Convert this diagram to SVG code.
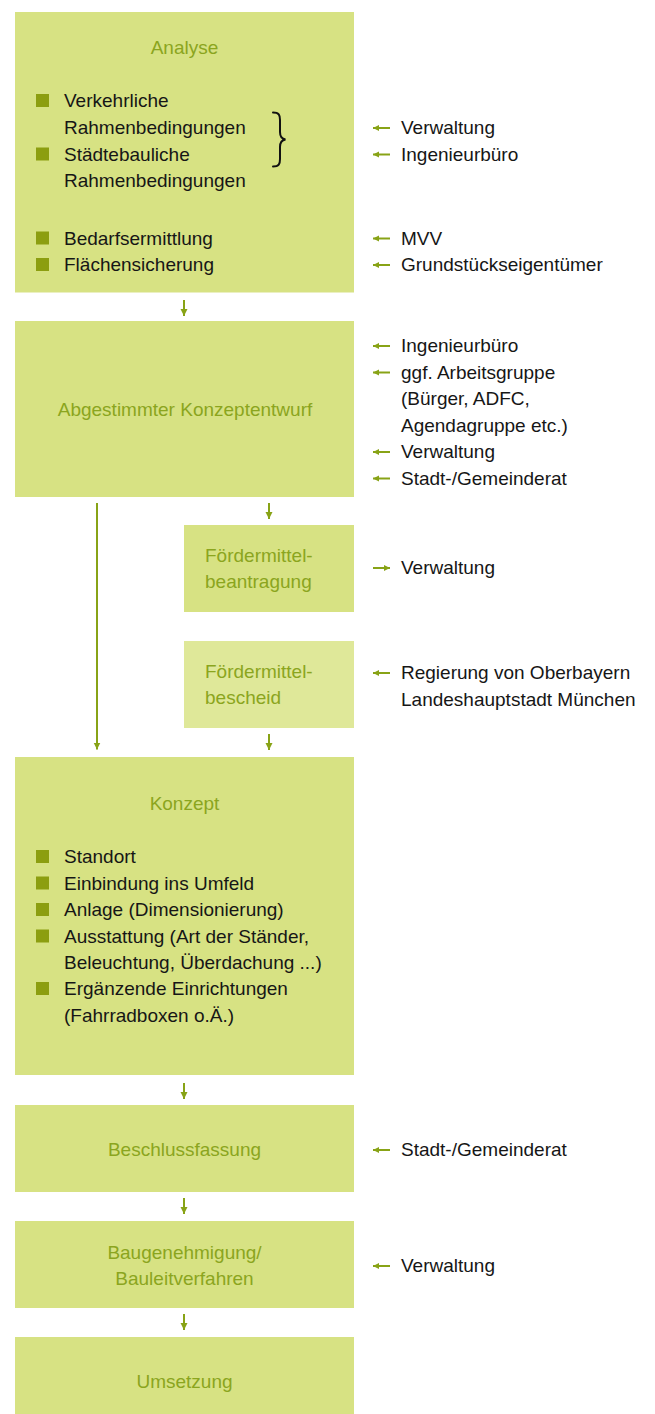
<svg xmlns="http://www.w3.org/2000/svg" width="655" height="1414" viewBox="0 0 655 1414">
<defs>
<style>
.box{fill:#d7e283}
.box2{fill:#dfe899}
.t{font-family:"Liberation Sans",Arial,sans-serif;font-size:19px}
.title{fill:#8ba51e;text-anchor:middle}
.ftitle{fill:#8ba51e}
.blk{fill:#161616}
.bul{fill:#8c9e10}
.con{stroke:#88a316;stroke-width:2;fill:none}
.brace{stroke:#111;stroke-width:2;fill:none;stroke-linecap:round}
</style>
<marker id="ah" markerUnits="userSpaceOnUse" markerWidth="8" markerHeight="8" refX="7" refY="3.5" orient="auto">
<path d="M0,0 L7,3.5 L0,7 z" fill="#88a316"/>
</marker>
<marker id="sh" markerUnits="userSpaceOnUse" markerWidth="7" markerHeight="7" refX="6" refY="3" orient="auto">
<path d="M0,0 L6,3 L0,6 z" fill="#88a316"/>
</marker>
</defs>

<g id="analyse">
<rect class="box" x="15" y="12" width="339" height="280.5"/>
<text class="t title" x="184.5" y="54">Analyse</text>
<rect class="bul" x="36" y="94" width="13" height="13"/>
<text class="t blk" x="64" y="107">Verkehrliche</text>
<text class="t blk" x="64" y="134">Rahmenbedingungen</text>
<rect class="bul" x="36" y="147.5" width="13" height="13"/>
<text class="t blk" x="64" y="160.5">Städtebauliche</text>
<text class="t blk" x="64" y="187">Rahmenbedingungen</text>
<path class="brace" d="M273,112.5 C279,112.5 280,115 280,120 L280,132 C280,137 282,139 285.5,139.5 C282,140 280,142 280,147 L280,159 C280,164 279,166.5 273,166.5"/>
<rect class="bul" x="36" y="231.5" width="13" height="13"/>
<text class="t blk" x="64" y="244.5">Bedarfsermittlung</text>
<rect class="bul" x="36" y="258" width="13" height="13"/>
<text class="t blk" x="64" y="271">Flächensicherung</text>
</g>

<g id="analyse-actors">
<text class="t blk" x="401" y="134">Verwaltung</text>
<text class="t blk" x="401" y="160.5">Ingenieurbüro</text>
<text class="t blk" x="401" y="244.5">MVV</text>
<text class="t blk" x="401" y="271">Grundstückseigentümer</text>
</g>

<g id="konzeptentwurf">
<rect class="box" x="15" y="321" width="339" height="176"/>
<text class="t title" x="185" y="416">Abgestimmter Konzeptentwurf</text>
</g>

<g id="konzeptentwurf-actors">
<text class="t blk" x="401" y="352">Ingenieurbüro</text>
<text class="t blk" x="401" y="378.5">ggf. Arbeitsgruppe</text>
<text class="t blk" x="401" y="405">(Bürger, ADFC,</text>
<text class="t blk" x="401" y="431.5">Agendagruppe etc.)</text>
<text class="t blk" x="401" y="458">Verwaltung</text>
<text class="t blk" x="401" y="484.5">Stadt-/Gemeinderat</text>
</g>

<g id="foerderantrag">
<rect class="box" x="184" y="525" width="170" height="87"/>
<text class="t ftitle" x="205" y="562">Fördermittel-</text>
<text class="t ftitle" x="205" y="588">beantragung</text>
<text class="t blk" x="401" y="574">Verwaltung</text>
</g>

<g id="foerderbescheid">
<rect class="box2" x="184" y="641" width="170" height="87"/>
<text class="t ftitle" x="205" y="678">Fördermittel-</text>
<text class="t ftitle" x="205" y="704">bescheid</text>
<text class="t blk" x="401" y="679">Regierung von Oberbayern</text>
<text class="t blk" x="401" y="705.5">Landeshauptstadt München</text>
</g>

<g id="konzept">
<rect class="box" x="15" y="757" width="339" height="318"/>
<text class="t title" x="184.5" y="810">Konzept</text>
<rect class="bul" x="36" y="850" width="13" height="13"/>
<text class="t blk" x="64" y="863">Standort</text>
<rect class="bul" x="36" y="876.5" width="13" height="13"/>
<text class="t blk" x="64" y="889.5">Einbindung ins Umfeld</text>
<rect class="bul" x="36" y="903" width="13" height="13"/>
<text class="t blk" x="64" y="916">Anlage (Dimensionierung)</text>
<rect class="bul" x="36" y="929.5" width="13" height="13"/>
<text class="t blk" x="64" y="942.5">Ausstattung (Art der Ständer,</text>
<text class="t blk" x="64" y="969">Beleuchtung, Überdachung ...)</text>
<rect class="bul" x="36" y="982" width="13" height="13"/>
<text class="t blk" x="64" y="995">Ergänzende Einrichtungen</text>
<text class="t blk" x="64" y="1021.5">(Fahrradboxen o.Ä.)</text>
</g>

<g id="beschluss">
<rect class="box" x="15" y="1105" width="339" height="87"/>
<text class="t title" x="184.5" y="1156">Beschlussfassung</text>
<text class="t blk" x="401" y="1156">Stadt-/Gemeinderat</text>
</g>

<g id="baugenehmigung">
<rect class="box" x="15" y="1221" width="339" height="87"/>
<text class="t title" x="184.5" y="1259">Baugenehmigung/</text>
<text class="t title" x="184.5" y="1285">Bauleitverfahren</text>
<text class="t blk" x="401" y="1272">Verwaltung</text>
</g>

<g id="umsetzung">
<rect class="box" x="15" y="1337" width="339" height="77"/>
<text class="t title" x="184.5" y="1388">Umsetzung</text>
</g>

<g id="connectors">
<line class="con" x1="184" y1="300" x2="184" y2="316" marker-end="url(#ah)"/>
<line class="con" x1="269" y1="503" x2="269" y2="519" marker-end="url(#ah)"/>
<line class="con" x1="97" y1="503" x2="97" y2="749.5" marker-end="url(#ah)"/>
<line class="con" x1="269" y1="734" x2="269" y2="750" marker-end="url(#ah)"/>
<line class="con" x1="184" y1="1083" x2="184" y2="1099" marker-end="url(#ah)"/>
<line class="con" x1="184" y1="1198" x2="184" y2="1214" marker-end="url(#ah)"/>
<line class="con" x1="184" y1="1314" x2="184" y2="1330" marker-end="url(#ah)"/>
<line class="con" x1="390" y1="128" x2="373" y2="128" marker-end="url(#sh)"/>
<line class="con" x1="390" y1="154.5" x2="373" y2="154.5" marker-end="url(#sh)"/>
<line class="con" x1="390" y1="238.5" x2="373" y2="238.5" marker-end="url(#sh)"/>
<line class="con" x1="390" y1="265" x2="373" y2="265" marker-end="url(#sh)"/>
<line class="con" x1="390" y1="346" x2="373" y2="346" marker-end="url(#sh)"/>
<line class="con" x1="390" y1="372.5" x2="373" y2="372.5" marker-end="url(#sh)"/>
<line class="con" x1="390" y1="452" x2="373" y2="452" marker-end="url(#sh)"/>
<line class="con" x1="390" y1="478.5" x2="373" y2="478.5" marker-end="url(#sh)"/>
<line class="con" x1="373" y1="568" x2="390" y2="568" marker-end="url(#sh)"/>
<line class="con" x1="390" y1="673" x2="373" y2="673" marker-end="url(#sh)"/>
<line class="con" x1="390" y1="1150" x2="373" y2="1150" marker-end="url(#sh)"/>
<line class="con" x1="390" y1="1266" x2="373" y2="1266" marker-end="url(#sh)"/>
</g>
</svg>
